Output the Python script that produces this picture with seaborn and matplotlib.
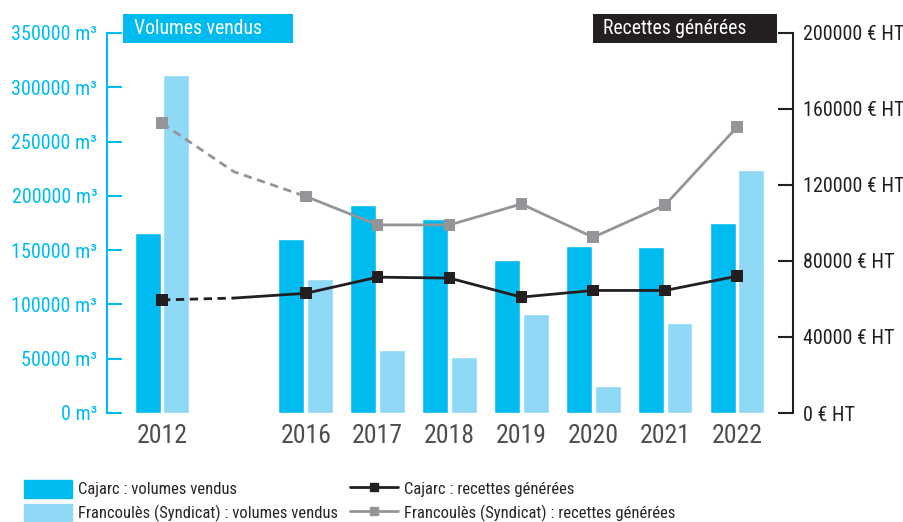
import matplotlib
matplotlib.use("Agg")
import matplotlib.pyplot as plt
from matplotlib import font_manager
from matplotlib.patches import Patch, Rectangle
from matplotlib.lines import Line2D
import seaborn as sns
import pandas as pd

# data
years = ["2012", "2016", "2017", "2018", "2019", "2020", "2021", "2022"]
cajarc_vol = [166000, 160000, 191500, 178500, 141000, 154000, 153000, 175000]
francoules_vol = [311000, 123500, 58000, 52000, 91000, 25000, 83000, 224000]
cajarc_rev = [59500, 63000, 71500, 71000, 61000, 64500, 64500, 72000]
francoules_rev = [152500, 114000, 99000, 99000, 110000, 92500, 109500, 150500]
# the 2014 gap: where the dashed lines bend
gap_year = "2014"
cajarc_rev_2014 = 60500
francoules_rev_2014 = 127000

left_ticks = [0, 50000, 100000, 150000, 200000, 250000, 300000, 350000]
right_ticks = [0, 40000, 80000, 120000, 160000, 200000]

CYAN = "#00BBF0"
LIGHT = "#8FD8F6"
BLACK = "#231F20"
GREY = "#939598"

sns.set_theme(style="white")
installed = {f.name for f in font_manager.fontManager.ttflist}
narrow = None
for cand in ["Liberation Sans Narrow", "Arial Narrow", "Roboto Condensed",
             "Archivo Narrow", "PT Sans Narrow"]:
    if cand in installed:
        narrow = cand
        break
# without a narrow face, shrink the text so it keeps its width
k = 1.0 if narrow else 0.88
plt.rcParams["font.family"] = [narrow or "Liberation Sans", "DejaVu Sans"]

order = [years[0], gap_year] + years[1:]
pos = {y: i for i, y in enumerate(order)}

df = pd.DataFrame({
    "year": years * 2,
    "site": ["Cajarc"] * len(years) + ["Francoulès"] * len(years),
    "volume": cajarc_vol + francoules_vol,
})

fig = plt.figure(figsize=(9.04, 5.22), dpi=100)
ax = fig.add_axes([107 / 904, 1 - 413 / 522, (793 - 107) / 904, 380 / 522])

sns.barplot(data=df, x="year", y="volume", hue="site", order=order,
            hue_order=["Cajarc", "Francoulès"], palette=[CYAN, LIGHT],
            width=0.8, gap=0.1, ax=ax, legend=False, saturation=1)

ax2 = ax.twinx()

dash = (0, (3, 2))
lw = 2.0
x_c = [pos[y] for y in years]
# Cajarc revenue: dashed 2012 -> 2014, solid afterwards
sns.lineplot(x=[pos["2012"], pos[gap_year]], y=[cajarc_rev[0], cajarc_rev_2014],
             color=BLACK, lw=lw, ax=ax2, linestyle=dash)
sns.lineplot(x=[pos[gap_year]] + x_c[1:], y=[cajarc_rev_2014] + cajarc_rev[1:],
             color=BLACK, lw=lw, ax=ax2, sort=False)
# Francoulès revenue: dashed 2012 -> 2016, solid afterwards
sns.lineplot(x=[pos["2012"], pos[gap_year], pos["2016"]],
             y=[francoules_rev[0], francoules_rev_2014, francoules_rev[1]],
             color=GREY, lw=lw, ax=ax2, sort=False, linestyle=dash)
sns.lineplot(x=x_c[1:], y=francoules_rev[1:], color=GREY, lw=lw, ax=ax2, sort=False)

sns.scatterplot(x=x_c, y=francoules_rev, marker="s", s=70, color=GREY,
                edgecolor="none", ax=ax2, zorder=5)
sns.scatterplot(x=x_c, y=cajarc_rev, marker="s", s=70, color=BLACK,
                edgecolor="none", ax=ax2, zorder=5)

slot = (737 - 162) / 8
ax.set_xlim((107 - 162) / slot, (793 - 162) / slot)
ax.set_ylim(0, 350000)
ax2.set_ylim(0, 200000)

ax.set_xticks([pos[y] for y in years])
ax.set_xticklabels(years, fontsize=18.5 * k, color="#4D4D4D")
ax.set_yticks(left_ticks)
ax.set_yticklabels([f"{v} m³" for v in left_ticks], fontsize=14.5 * k, color=CYAN)
ax2.set_yticks(right_ticks)
ax2.set_yticklabels([f"{v} € HT" for v in right_ticks], fontsize=14.5 * k, color=BLACK)
ax.set_xlabel("")
ax.set_ylabel("")
ax2.set_ylabel("")

ax.tick_params(axis="x", length=0, pad=8)
ax.tick_params(axis="y", direction="in", length=11, width=1.5, color=CYAN, pad=7)
ax2.tick_params(axis="y", direction="in", length=11, width=1.5, color=BLACK, pad=7)

for s in ["top", "right", "bottom"]:
    ax.spines[s].set_visible(False)
for s in ["top", "left", "bottom"]:
    ax2.spines[s].set_visible(False)
ax.spines["left"].set_color(CYAN)
ax.spines["left"].set_linewidth(1.5)
ax2.spines["right"].set_color(BLACK)
ax2.spines["right"].set_linewidth(1.5)

# header boxes
fig.add_artist(Rectangle((123 / 904, 1 - 43 / 522), 170 / 904, 29 / 522,
                         transform=fig.transFigure, color=CYAN, lw=0))
fig.text(134 / 904, 1 - 29 / 522, "Volumes vendus", color="white",
         fontsize=14.2 * k, va="center", ha="left")
fig.add_artist(Rectangle((593 / 904, 1 - 43 / 522), 184 / 904, 29 / 522,
                         transform=fig.transFigure, color=BLACK, lw=0))
fig.text(603 / 904, 1 - 29 / 522, "Recettes générées", color="white",
         fontsize=14.2 * k, va="center", ha="left")

handles = [
    Patch(color=CYAN, label="Cajarc : volumes vendus"),
    Patch(color=LIGHT, label="Francoulès (Syndicat) : volumes vendus"),
    Line2D([0, 1], [0, 0], color=BLACK, lw=2, marker="s", markersize=6,
           label="Cajarc : recettes générées"),
    Line2D([0, 1], [0, 0], color=GREY, lw=2, marker="s", markersize=6,
           label="Francoulès (Syndicat) : recettes générées"),
]
fs = 12.0 * k
fig.legend(handles=handles, loc="lower left", bbox_to_anchor=(24 / 904, 0),
           ncol=2, frameon=False, fontsize=fs, handlelength=2.88 * 12 / fs,
           handleheight=1.26 * 12 / fs, handletextpad=0.36 * 12 / fs,
           columnspacing=0.72 * 12 / fs, labelspacing=0.36 * 12 / fs,
           borderpad=0, borderaxespad=0)

fig.savefig("out.png", dpi=100)
